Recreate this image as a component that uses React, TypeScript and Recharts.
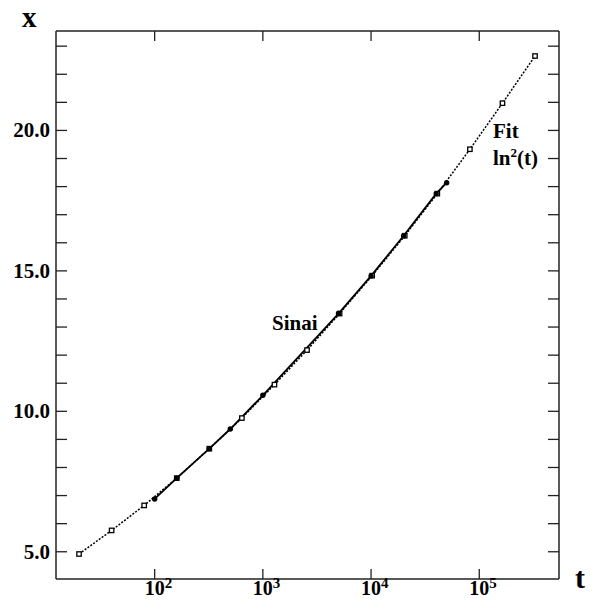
import { LineChart, Line, XAxis, YAxis } from "recharts";

// fit ln^2(t), sampled at doubling times
const fitTimes = [20, 40, 80, 160, 320, 640, 1280, 2560, 5120, 10240, 20480, 40960, 81920, 163840, 327680];
const fitValues = [4.92, 5.76, 6.65, 7.62, 8.67, 9.76, 10.95, 12.18, 13.48, 14.83, 16.25, 17.75, 19.33, 20.97, 22.65];

// Sinai simulation points
const sinaiTimes = [100, 160, 320, 500, 1000, 5000, 10000, 20000, 40000, 50000];
const sinaiValues = [6.88, 7.62, 8.67, 9.37, 10.57, 13.48, 14.82, 16.25, 17.75, 18.14];

const decadeTicks = [100, 1000, 10000, 100000];
const decadeExponents = ["2", "3", "4", "5"];
const valueTicks = [5, 6, 7, 8, 9, 10, 11, 12, 13, 14, 15, 16, 17, 18, 19, 20, 21, 22, 23];
const labelledValues = [5, 10, 15, 20];

const fitData = fitTimes.map((t, i) => ({ t, x: fitValues[i] }));
const sinaiData = sinaiTimes.map((t, i) => ({ t, x: sinaiValues[i] }));

const FONT = "'Liberation Serif', 'DejaVu Serif', serif";
const INK = "#222";
const TICK = 10;
const T_DOMAIN = [12.25, 545700];
const X_DOMAIN = [4.03, 23.54];

function BottomTick(props: any) {
  const { x, y, payload } = props;
  const idx = decadeTicks.indexOf(payload.value);
  return (
    <g>
      <line x1={x} y1={y} x2={x} y2={y - TICK} stroke={INK} strokeWidth={1.3} />
      <text x={x - 10} y={y + 16} fontFamily={FONT} fontWeight="bold" fontSize={20} fill="#000">
        <tspan>10</tspan>
        <tspan dy={-7} fontSize={15}>{decadeExponents[idx]}</tspan>
      </text>
    </g>
  );
}

function TopTick(props: any) {
  const { x, y } = props;
  return <line x1={x} y1={y} x2={x} y2={y + TICK} stroke={INK} strokeWidth={1.3} />;
}

function LeftTick(props: any) {
  const { x, y, payload } = props;
  const labelled = labelledValues.includes(payload.value);
  return (
    <g>
      <line x1={x} y1={y} x2={x + 11} y2={y} stroke={INK} strokeWidth={1.3} />
      {labelled && (
        <text
          x={x - 6}
          y={y + 7}
          textAnchor="end"
          fontFamily={FONT}
          fontWeight="bold"
          fontSize={21}
          fill="#000"
        >
          {payload.value.toFixed(1)}
        </text>
      )}
    </g>
  );
}

function RightTick(props: any) {
  const { x, y } = props;
  return <line x1={x} y1={y} x2={x - 11} y2={y} stroke={INK} strokeWidth={1.3} />;
}

function OpenSquare(props: any) {
  const { cx, cy, index } = props;
  if (cx == null || cy == null) return <g key={`f${index}`} />;
  return (
    <rect key={`f${index}`} x={cx - 2.2} y={cy - 2.2} width={4.4} height={4.4} fill="#fff" stroke="#000" strokeWidth={1.3} />
  );
}

function FilledDot(props: any) {
  const { cx, cy, index } = props;
  if (cx == null || cy == null) return <g key={`s${index}`} />;
  return <circle key={`s${index}`} cx={cx} cy={cy} r={2.7} fill="#000" />;
}

export default function App() {
  const axisLine = { stroke: INK, strokeWidth: 1.5 };
  return (
    <div style={{ position: "absolute", left: 0, top: 0, width: 595, height: 600, background: "#fff" }}>
      <LineChart width={595} height={600} margin={{ top: 30, right: 35, bottom: 20, left: 55 }}>
        <XAxis
          xAxisId="bottom"
          dataKey="t"
          type="number"
          scale="log"
          domain={T_DOMAIN}
          allowDataOverflow
          ticks={decadeTicks}
          tickLine={false}
          tickSize={0}
          tickMargin={0}
          height={1}
          axisLine={axisLine}
          tick={<BottomTick />}
          interval={0}
        />
        <XAxis
          xAxisId="top"
          orientation="top"
          dataKey="t"
          type="number"
          scale="log"
          domain={T_DOMAIN}
          allowDataOverflow
          ticks={decadeTicks}
          tickLine={false}
          tickSize={0}
          tickMargin={0}
          height={1}
          axisLine={axisLine}
          tick={<TopTick />}
          interval={0}
        />
        <YAxis
          yAxisId="left"
          type="number"
          domain={X_DOMAIN}
          allowDataOverflow
          ticks={valueTicks}
          tickLine={false}
          tickSize={0}
          tickMargin={0}
          width={1}
          axisLine={axisLine}
          tick={<LeftTick />}
          interval={0}
        />
        <YAxis
          yAxisId="right"
          orientation="right"
          type="number"
          domain={X_DOMAIN}
          allowDataOverflow
          ticks={valueTicks}
          tickLine={false}
          tickSize={0}
          tickMargin={0}
          width={1}
          axisLine={axisLine}
          tick={<RightTick />}
          interval={0}
        />
        <Line
          xAxisId="top"
          yAxisId="right"
          data={fitData}
          dataKey="x"
          type="linear"
          stroke="none"
          dot={false}
          activeDot={false}
          legendType="none"
          isAnimationActive={false}
        />
        <Line
          xAxisId="bottom"
          yAxisId="left"
          data={fitData}
          dataKey="x"
          type="linear"
          stroke="#000"
          strokeWidth={1.5}
          strokeDasharray="2 1.5"
          dot={OpenSquare}
          activeDot={false}
          isAnimationActive={false}
        />
        <Line
          xAxisId="bottom"
          yAxisId="left"
          data={sinaiData}
          dataKey="x"
          type="linear"
          stroke="#000"
          strokeWidth={1.8}
          dot={FilledDot}
          activeDot={false}
          isAnimationActive={false}
        />
      </LineChart>
      <svg
        width={595}
        height={600}
        style={{ position: "absolute", left: 0, top: 0, pointerEvents: "none" }}
        fontFamily={FONT}
        fontWeight="bold"
      >
        <text x={22} y={27} fontSize={29} fill="#000">x</text>
        <text x={575} y={588} fontSize={30} fill="#000">t</text>
        <text x={272} y={330} fontSize={21} fill="#000">Sinai</text>
        <text x={493} y={138} fontSize={21} fill="#000">Fit</text>
        <text x={493} y={165} fontSize={21} fill="#000">
          <tspan>ln</tspan>
          <tspan dy={-8} fontSize={13}>2</tspan>
          <tspan dy={8}>(t)</tspan>
        </text>
      </svg>
    </div>
  );
}
